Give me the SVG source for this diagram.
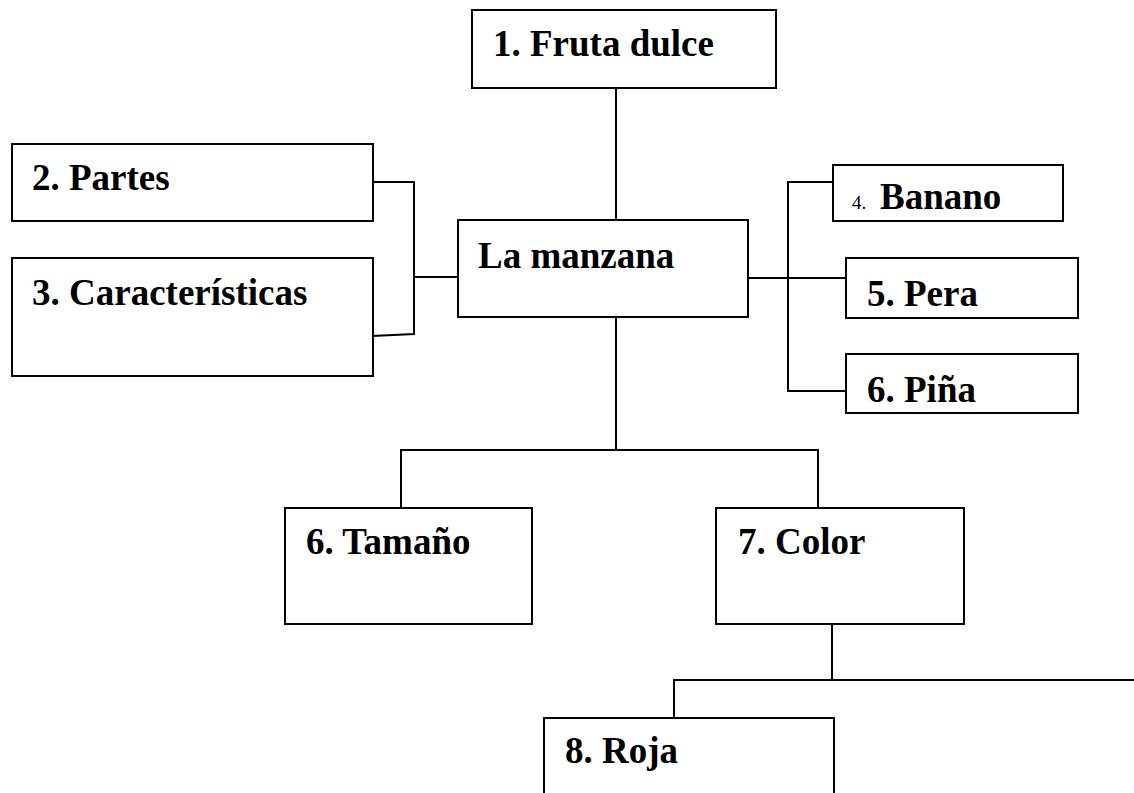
<svg xmlns="http://www.w3.org/2000/svg" width="1134" height="793" viewBox="0 0 1134 793">
<style>
.box{fill:#fff;stroke:#000;stroke-width:2}
.lbl{font-family:"Liberation Serif","Times New Roman",serif;font-weight:bold;font-size:37px;fill:#000}
.sm{font-weight:normal;font-size:19px}
.con{fill:none;stroke:#000;stroke-width:2}
</style>
<rect width="1134" height="793" fill="#fff"/>
<g id="connectors">
<line class="con" x1="616" y1="88" x2="616" y2="220"/>
<polyline class="con" points="372,182 414,182 414,334 372,336"/>
<line class="con" x1="414" y1="277" x2="458" y2="277"/>
<polyline class="con" points="832,182 788,182 788,391 846,391"/>
<line class="con" x1="746" y1="278" x2="846" y2="278"/>
<line class="con" x1="616" y1="317" x2="616" y2="450"/>
<polyline class="con" points="401,508 401,450 818,450 818,508"/>
<line class="con" x1="832" y1="623" x2="832" y2="680"/>
<polyline class="con" points="674,718 674,680 1134,680"/>
</g>
<g id="n1"><rect class="box" x="472" y="10" width="304" height="78"/><text class="lbl" x="493" y="56">1. Fruta dulce</text></g>
<g id="n2"><rect class="box" x="12" y="144" width="361" height="77"/><text class="lbl" x="32" y="190">2. Partes</text></g>
<g id="n3"><rect class="box" x="12" y="258" width="361" height="118"/><text class="lbl" x="32" y="305">3. Características</text></g>
<g id="center"><rect class="box" x="458" y="220" width="290" height="97"/><text class="lbl" x="478" y="268">La manzana</text></g>
<g id="n4"><rect class="box" x="833" y="165" width="230" height="56"/><text class="lbl" x="852" y="209"><tspan class="sm">4.</tspan><tspan x="880">Banano</tspan></text></g>
<g id="n5"><rect class="box" x="846" y="258" width="232" height="60"/><text class="lbl" x="867" y="306">5. Pera</text></g>
<g id="n6"><rect class="box" x="846" y="354" width="232" height="59"/><text class="lbl" x="867" y="402">6. Piña</text></g>
<g id="n6b"><rect class="box" x="285" y="508" width="247" height="116"/><text class="lbl" x="306" y="554">6. Tamaño</text></g>
<g id="n7"><rect class="box" x="716" y="508" width="248" height="116"/><text class="lbl" x="738" y="554">7. Color</text></g>
<g id="n8"><path class="box" d="M544,800 V718 H834 V800"/><text class="lbl" x="565" y="763">8. Roja</text></g>
</svg>
